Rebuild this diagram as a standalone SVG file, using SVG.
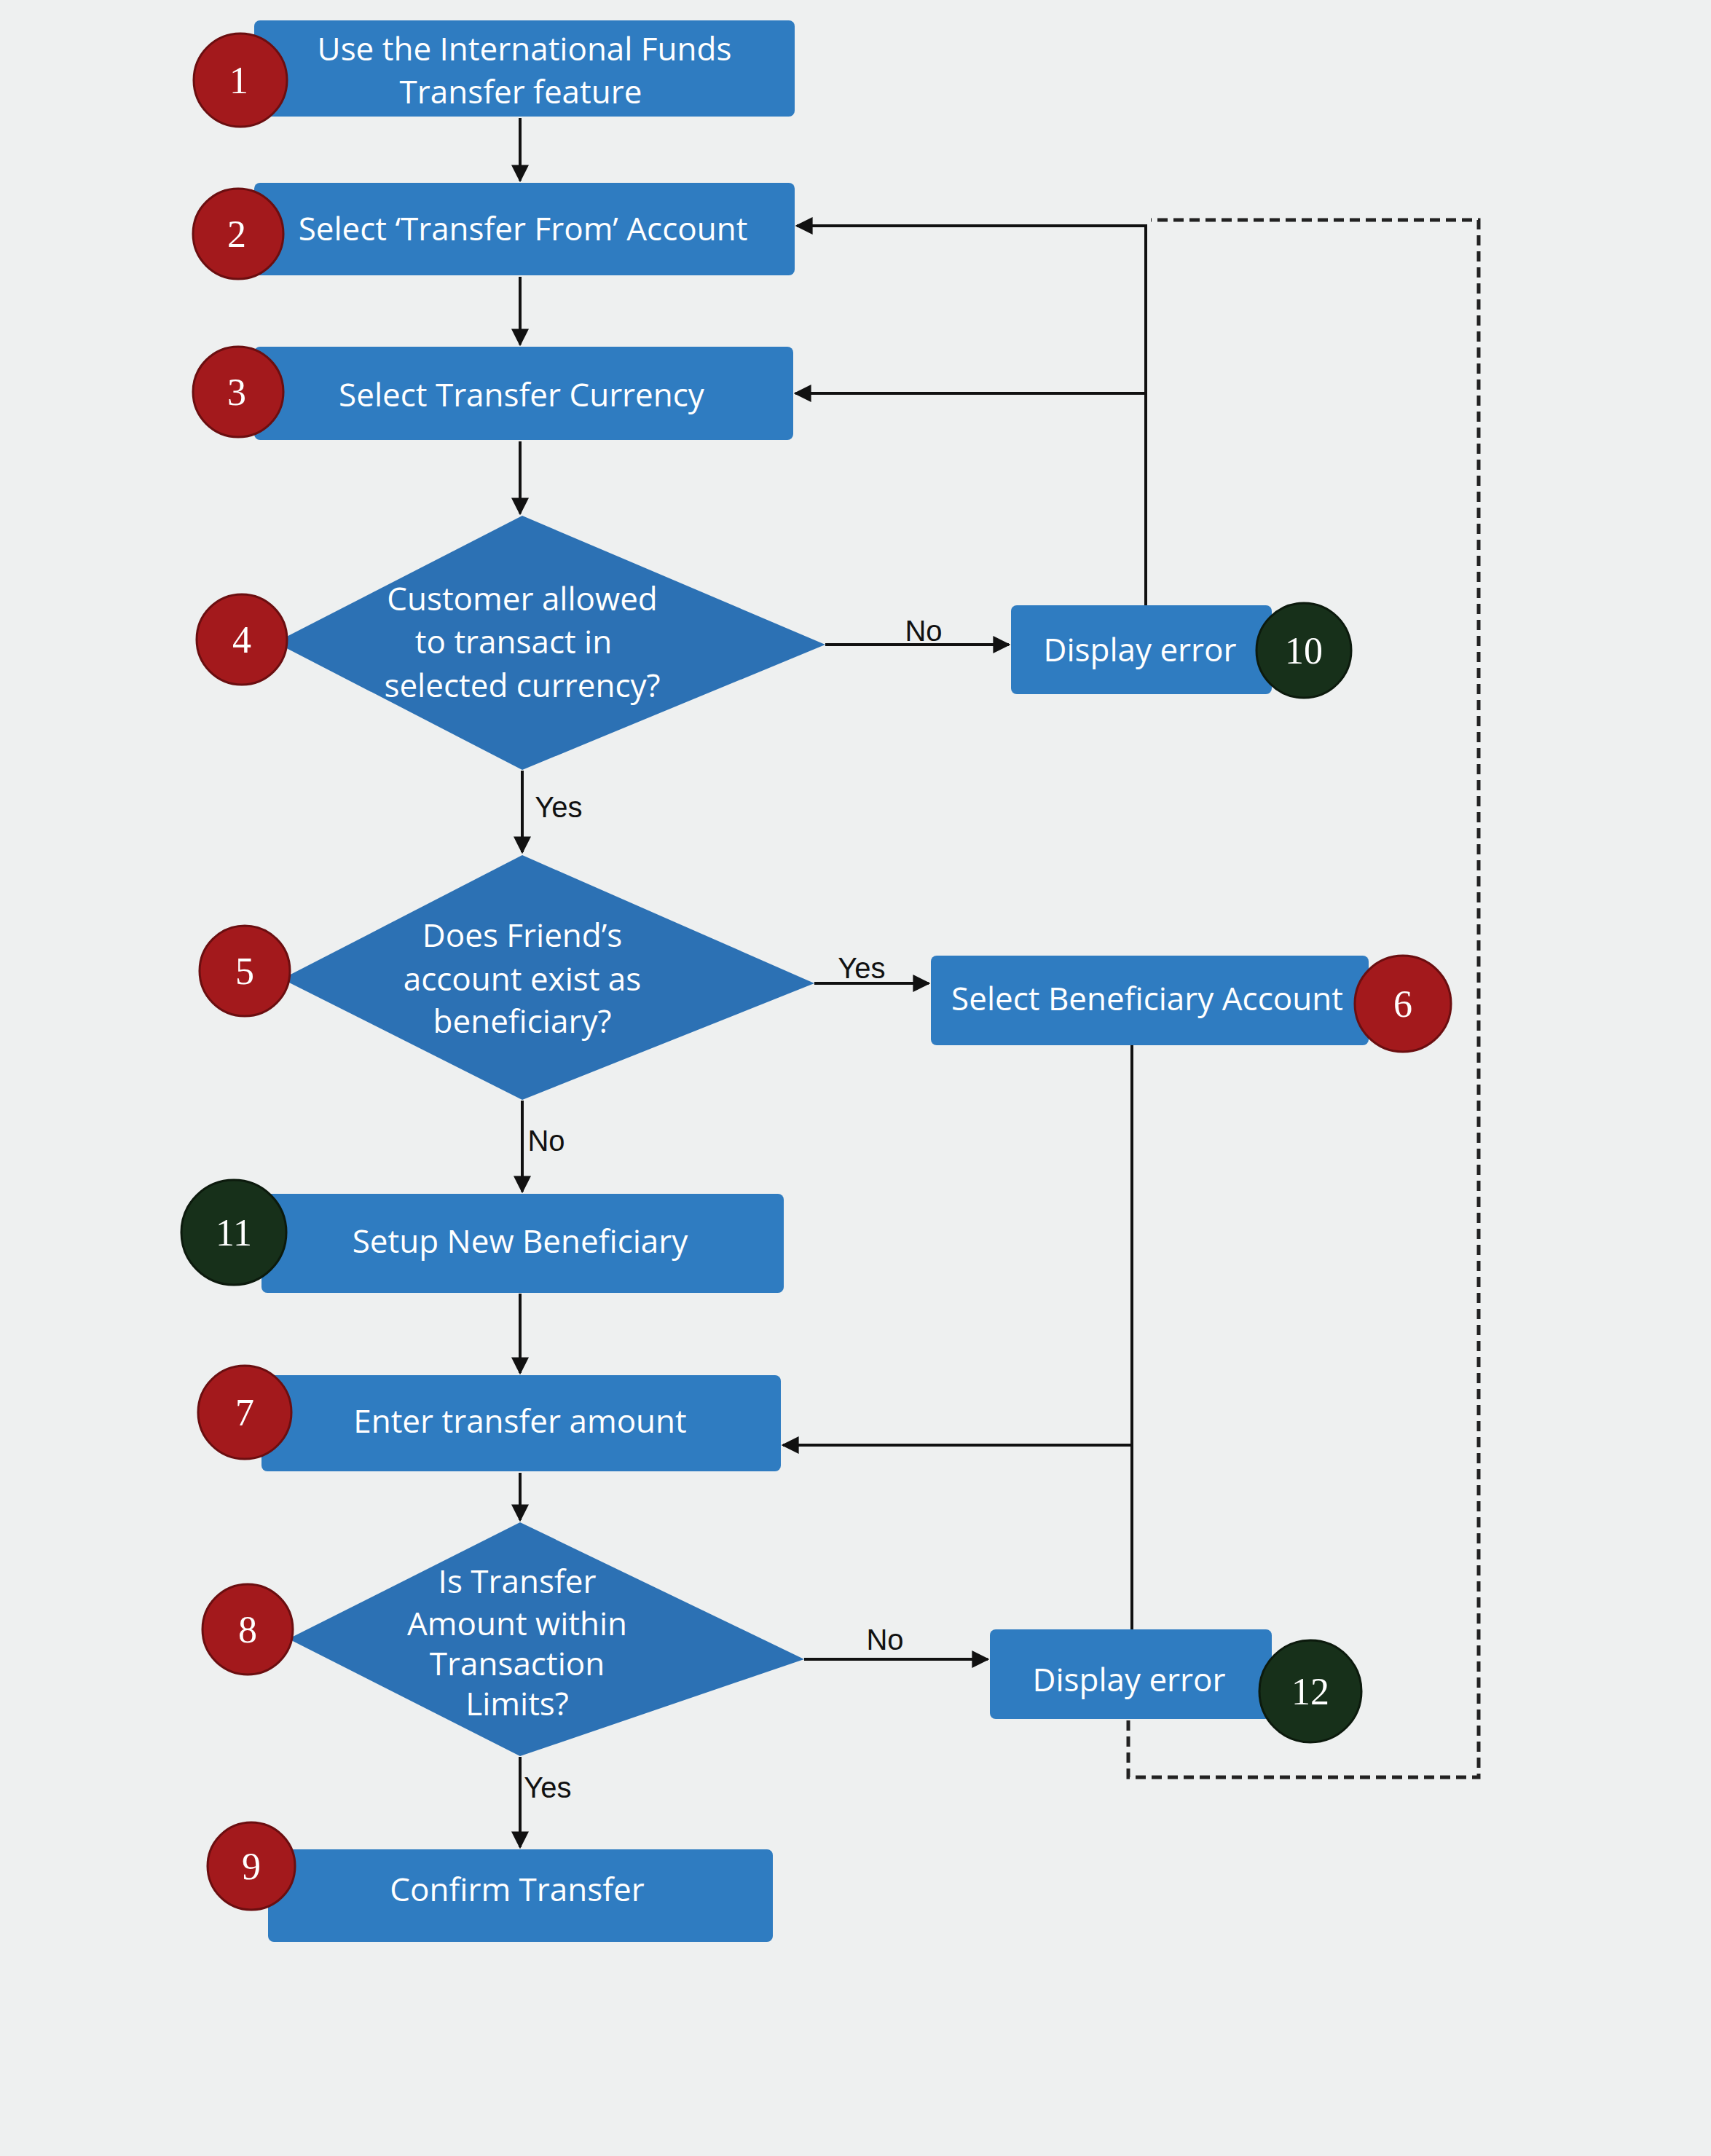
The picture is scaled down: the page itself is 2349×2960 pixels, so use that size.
<svg xmlns="http://www.w3.org/2000/svg" width="2349" height="2960" viewBox="0 0 2349 2960">
<style>
.box{fill:#2f7cc1}
.dia{fill:#2c71b4}
.red{fill:#a3191c;stroke:#6b0e10;stroke-width:3}
.grn{fill:#17301a;stroke:#0c1a0d;stroke-width:3}
.t{font-family:"Open Sans","Liberation Sans",sans-serif;font-size:44px;fill:#ffffff;text-anchor:middle}
.n{font-family:"Liberation Serif",serif;font-size:52px;fill:#ffffff;text-anchor:middle}
.l{font-family:"Liberation Sans",sans-serif;font-size:40px;fill:#111;text-anchor:middle}
.c{stroke:#111;stroke-width:4;fill:none}
.d{stroke:#222;stroke-width:5;fill:none;stroke-dasharray:14,8}
</style>
<defs><marker id="a" viewBox="0 0 10 10" refX="9" refY="5" markerWidth="6" markerHeight="6" orient="auto"><path d="M0,0L10,5L0,10z" fill="#111"/></marker></defs>
<rect width="2349" height="2960" fill="#eef0f0"/>
<g id="connectors">
<path class="c" marker-end="url(#a)" d="M714,162V248"/>
<path class="c" marker-end="url(#a)" d="M714,380V473"/>
<path class="c" marker-end="url(#a)" d="M714,606V705"/>
<path class="c" marker-end="url(#a)" d="M717,1058V1170"/>
<path class="c" marker-end="url(#a)" d="M717,1511V1636"/>
<path class="c" marker-end="url(#a)" d="M714,1776V1885"/>
<path class="c" marker-end="url(#a)" d="M714,2022V2087"/>
<path class="c" marker-end="url(#a)" d="M714,2412V2536"/>
<path class="c" marker-end="url(#a)" d="M1133,885H1385"/>
<path class="c" marker-end="url(#a)" d="M1118,1350H1275"/>
<path class="c" marker-end="url(#a)" d="M1104,2278H1356"/>
<path class="c" d="M1573,831V308"/>
<path class="c" marker-end="url(#a)" d="M1573,310H1094"/>
<path class="c" marker-end="url(#a)" d="M1573,540H1092"/>
<path class="c" d="M1554,2237V1435"/>
<path class="c" marker-end="url(#a)" d="M1554,1984H1075"/>
<path class="d" d="M1549,2362V2440H2030V302H1580"/>
<text class="l" x="1268" y="880">No</text>
<text class="l" x="767" y="1122">Yes</text>
<text class="l" x="1183" y="1343">Yes</text>
<text class="l" x="750" y="1580">No</text>
<text class="l" x="1215" y="2265">No</text>
<text class="l" x="752" y="2468">Yes</text>
</g>
<g id="n1"><rect class="box" x="349" y="28" width="742" height="132" rx="8"/><text class="t" x="720" y="83">Use the International Funds</text><text class="t" x="715" y="142">Transfer feature</text><circle class="red" cx="330" cy="110" r="64"/><text class="n" x="328" y="128">1</text></g>
<g id="n2"><rect class="box" x="349" y="251" width="742" height="127" rx="8"/><text class="t" x="718" y="330">Select ‘Transfer From’ Account</text><circle class="red" cx="327" cy="321" r="62"/><text class="n" x="325" y="339">2</text></g>
<g id="n3"><rect class="box" x="349" y="476" width="740" height="128" rx="8"/><text class="t" x="716" y="558">Select Transfer Currency</text><circle class="red" cx="327" cy="538" r="62"/><text class="n" x="325" y="556">3</text></g>
<g id="n4"><polygon class="dia" points="717,708 1133,885 717,1057 378,882"/><text class="t" x="717" y="838">Customer allowed</text><text class="t" x="705" y="897">to transact in</text><text class="t" x="717" y="957">selected currency?</text><circle class="red" cx="332" cy="878" r="62"/><text class="n" x="332" y="896">4</text></g>
<g id="n10"><rect class="box" x="1388" y="831" width="358" height="122" rx="8"/><text class="t" x="1565" y="908">Display error</text><circle class="grn" cx="1790" cy="893" r="65"/><text class="n" x="1790" y="911">10</text></g>
<g id="n5"><polygon class="dia" points="717,1174 1118,1350 717,1510 387,1344"/><text class="t" x="717" y="1300">Does Friend’s</text><text class="t" x="717" y="1360">account exist as</text><text class="t" x="717" y="1418">beneficiary?</text><circle class="red" cx="336" cy="1333" r="62"/><text class="n" x="336" y="1351">5</text></g>
<g id="n6"><rect class="box" x="1278" y="1312" width="601" height="123" rx="8"/><text class="t" x="1575" y="1387">Select Beneficiary Account</text><circle class="red" cx="1926" cy="1378" r="66"/><text class="n" x="1926" y="1396">6</text></g>
<g id="n11"><rect class="box" x="359" y="1639" width="717" height="136" rx="8"/><text class="t" x="714" y="1720">Setup New Beneficiary</text><circle class="grn" cx="321" cy="1692" r="72"/><text class="n" x="321" y="1710">11</text></g>
<g id="n7"><rect class="box" x="359" y="1888" width="713" height="132" rx="8"/><text class="t" x="714" y="1967">Enter transfer amount</text><circle class="red" cx="336" cy="1939" r="64"/><text class="n" x="336" y="1957">7</text></g>
<g id="n8"><polygon class="dia" points="714,2090 1104,2278 714,2411 396,2250"/><text class="t" x="710" y="2187">Is Transfer</text><text class="t" x="710" y="2245">Amount within</text><text class="t" x="710" y="2300">Transaction</text><text class="t" x="710" y="2355">Limits?</text><circle class="red" cx="340" cy="2237" r="62"/><text class="n" x="340" y="2255">8</text></g>
<g id="n12"><rect class="box" x="1359" y="2237" width="387" height="123" rx="8"/><text class="t" x="1550" y="2322">Display error</text><circle class="grn" cx="1799" cy="2322" r="70"/><text class="n" x="1799" y="2340">12</text></g>
<g id="n9"><rect class="box" x="368" y="2539" width="693" height="127" rx="8"/><text class="t" x="710" y="2610">Confirm Transfer</text><circle class="red" cx="345" cy="2562" r="60"/><text class="n" x="345" y="2580">9</text></g>
</svg>
